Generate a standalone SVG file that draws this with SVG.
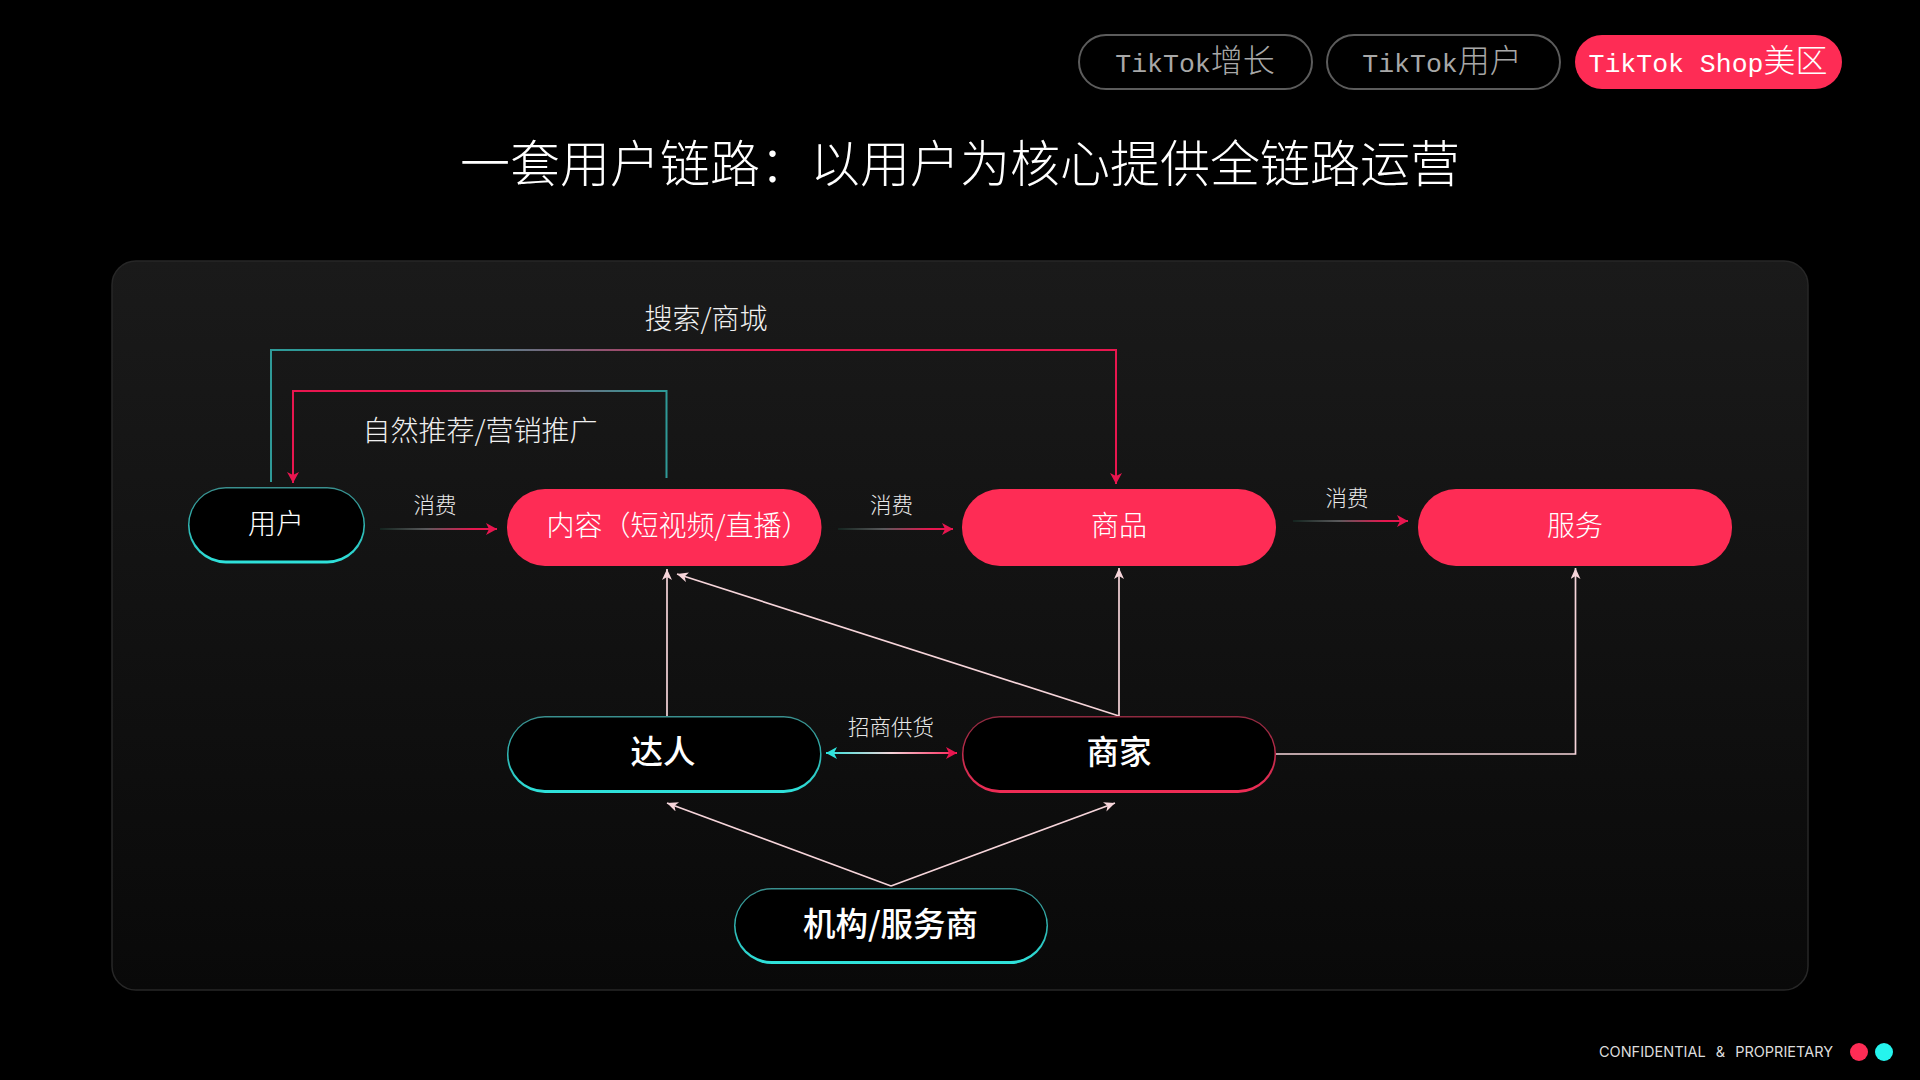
<svg xmlns="http://www.w3.org/2000/svg" width="1920" height="1080" viewBox="0 0 1920 1080">
<style>
text{font-family:"Noto Sans CJK SC","Noto Sans",sans-serif;fill:#fff;text-anchor:middle;font-weight:300}
.lat{font-family:"Liberation Mono","Noto Sans CJK SC",monospace;font-size:26.500px}
.tab{font-size:32px}
.lab{font-size:28px;fill:#f0f0f0}
.sm{font-size:21.500px;fill:#e8e8e8}
.nt{font-size:28px}
.bt{font-size:32.500px;font-weight:500}
.conn{fill:none;stroke-width:2}
.pale{stroke:#f6d5da;stroke-width:1.700}
.pink{fill:#fe2c55}
.dark{fill:#000}
</style>
<defs>
<linearGradient id="panel" x1="0" y1="0" x2="0" y2="1"><stop offset="0" stop-color="#1a1a1a"/><stop offset="1" stop-color="#090909"/></linearGradient>
<linearGradient id="edgeT" x1="0" y1="0" x2="0" y2="1"><stop offset="0" stop-color="#3a8f8e"/><stop offset=".7" stop-color="#2cc4c0"/><stop offset="1" stop-color="#2fe3dc"/></linearGradient>
<linearGradient id="edgeP" x1="0" y1="0" x2="0" y2="1"><stop offset="0" stop-color="#8f2a40"/><stop offset=".7" stop-color="#d42c50"/><stop offset="1" stop-color="#f02c55"/></linearGradient>
<linearGradient id="gSearch" gradientUnits="userSpaceOnUse" x1="420" y1="0" x2="760" y2="0"><stop offset="0" stop-color="#2f9a98"/><stop offset="1" stop-color="#e8164f"/></linearGradient>
<linearGradient id="gNat" gradientUnits="userSpaceOnUse" x1="430" y1="0" x2="650" y2="0"><stop offset="0" stop-color="#e8164f"/><stop offset="1" stop-color="#2f9a98"/></linearGradient>
<linearGradient id="gC1" gradientUnits="userSpaceOnUse" x1="380" y1="0" x2="497" y2="0"><stop offset="0" stop-color="#14241f"/><stop offset=".4" stop-color="#5a5a5c"/><stop offset=".8" stop-color="#e8164f"/></linearGradient>
<linearGradient id="gC2" gradientUnits="userSpaceOnUse" x1="838" y1="0" x2="953" y2="0"><stop offset="0" stop-color="#14241f"/><stop offset=".4" stop-color="#5a5a5c"/><stop offset=".8" stop-color="#e8164f"/></linearGradient>
<linearGradient id="gC3" gradientUnits="userSpaceOnUse" x1="1293" y1="0" x2="1408" y2="0"><stop offset="0" stop-color="#14241f"/><stop offset=".4" stop-color="#5a5a5c"/><stop offset=".8" stop-color="#e8164f"/></linearGradient>
<linearGradient id="gD" gradientUnits="userSpaceOnUse" x1="826" y1="0" x2="957" y2="0"><stop offset="0" stop-color="#2fe3dc"/><stop offset=".5" stop-color="#f6d5da"/><stop offset="1" stop-color="#fe1f55"/></linearGradient>
<marker id="aP" markerUnits="userSpaceOnUse" markerWidth="14" markerHeight="14" refX="11" refY="6" orient="auto"><path d="M0 0 11 6 0 12 3 6z" fill="#e8164f"/></marker>
<marker id="aW" markerUnits="userSpaceOnUse" markerWidth="14" markerHeight="14" refX="11" refY="5" orient="auto"><path d="M0 0 11 5 0 10 3 5z" fill="#f6d5da"/></marker>
<marker id="aT" markerUnits="userSpaceOnUse" markerWidth="14" markerHeight="14" refX="0" refY="6" orient="auto"><path d="M11 0 0 6 11 12 8 6z" fill="#2fe3dc"/></marker>
</defs>
<rect width="1920" height="1080" fill="#000"/>
<g id="tabs">
<g id="tab1"><rect x="1079" y="35" width="233" height="54" rx="27" fill="none" stroke="#5c5c5c" stroke-width="2"/><text x="1195" y="72" style="fill:#a8a8a8"><tspan class="lat">TikTok</tspan><tspan class="tab">增长</tspan></text></g>
<g id="tab2"><rect x="1327" y="35" width="233" height="54" rx="27" fill="none" stroke="#5c5c5c" stroke-width="2"/><text x="1442" y="72" style="fill:#a8a8a8"><tspan class="lat">TikTok</tspan><tspan class="tab">用户</tspan></text></g>
<g id="tab3"><rect x="1575" y="35" width="267" height="54" rx="27" class="pink"/><text x="1708" y="72"><tspan class="lat">TikTok Shop</tspan><tspan class="tab">美区</tspan></text></g>
</g>
<text id="title" x="960" y="182" font-size="50">一套用户链路：以用户为核心提供全链路运营</text>
<rect id="panel-bg" x="112" y="261" width="1696" height="729" rx="24" fill="url(#panel)" stroke="#272727" stroke-width="1.5"/>
<g id="connectors">
<path class="conn" stroke="url(#gSearch)" marker-end="url(#aP)" d="M271 482V350H1116V484"/>
<path class="conn" stroke="url(#gNat)" marker-end="url(#aP)" d="M666.500 478V391H293V483"/>
<path class="conn" stroke="url(#gC1)" marker-end="url(#aP)" d="M380 529H497"/>
<path class="conn" stroke="url(#gC2)" marker-end="url(#aP)" d="M838 529H953"/>
<path class="conn" stroke="url(#gC3)" marker-end="url(#aP)" d="M1293 521H1408"/>
<path class="conn pale" marker-end="url(#aW)" d="M667 716V569"/>
<path class="conn pale" marker-end="url(#aW)" d="M1119 716 677 574"/>
<path class="conn pale" marker-end="url(#aW)" d="M1119 716V568"/>
<path class="conn pale" marker-end="url(#aW)" d="M1276 754H1575.500V568"/>
<path class="conn pale" marker-end="url(#aW)" d="M891 886 667 803"/>
<path class="conn pale" marker-end="url(#aW)" d="M891 886 1115 803"/>
<path class="conn" stroke="url(#gD)" marker-start="url(#aT)" marker-end="url(#aP)" d="M826 753H957"/>
</g>
<g id="node-user"><rect x="188" y="487" width="177" height="76.500" rx="38" fill="url(#edgeT)"/><rect x="189.500" y="488.500" width="174" height="72" rx="36" class="dark"/><text class="nt" x="276" y="534">用户</text></g>
<g id="node-content"><rect x="507" y="489" width="314.500" height="77" rx="38" class="pink"/><text class="nt" x="678" y="536">内容（短视频/直播）</text></g>
<g id="node-product"><rect x="962" y="489" width="314" height="77" rx="38" class="pink"/><text class="nt" x="1119" y="536">商品</text></g>
<g id="node-service"><rect x="1418" y="489" width="314" height="77" rx="38" class="pink"/><text class="nt" x="1575" y="536">服务</text></g>
<g id="node-creator"><rect x="507" y="716" width="314.500" height="77" rx="38" fill="url(#edgeT)"/><rect x="508.500" y="717.500" width="311.500" height="72.500" rx="36" class="dark"/><text class="bt" x="663" y="764">达人</text></g>
<g id="node-merchant"><rect x="962" y="716" width="314" height="77" rx="38" fill="url(#edgeP)"/><rect x="963.500" y="717.500" width="311" height="72.500" rx="36" class="dark"/><text class="bt" x="1119" y="764">商家</text></g>
<g id="node-agency"><rect x="734" y="888" width="314" height="76" rx="38" fill="url(#edgeT)"/><rect x="735.500" y="889.500" width="311" height="71.500" rx="36" class="dark"/><text class="bt" x="890.500" y="936">机构/服务商</text></g>
<g id="labels">
<text class="lab" x="706" y="329">搜索/商城</text>
<text class="lab" x="480" y="441">自然推荐/营销推广</text>
<text class="sm" x="435" y="513">消费</text>
<text class="sm" x="891.500" y="513">消费</text>
<text class="sm" x="1347" y="506">消费</text>
<text class="sm" x="891" y="735">招商供货</text>
</g>
<g id="footer">
<text x="1716" y="1057" style="font-family:Inter,'Liberation Sans',sans-serif;font-size:14.500px;fill:#ddd;font-weight:400;word-spacing:6px">CONFIDENTIAL &amp; PROPRIETARY</text>
<circle cx="1859" cy="1052" r="9" class="pink"/>
<circle cx="1884" cy="1052" r="9" fill="#25f4ee"/>
</g>
</svg>
